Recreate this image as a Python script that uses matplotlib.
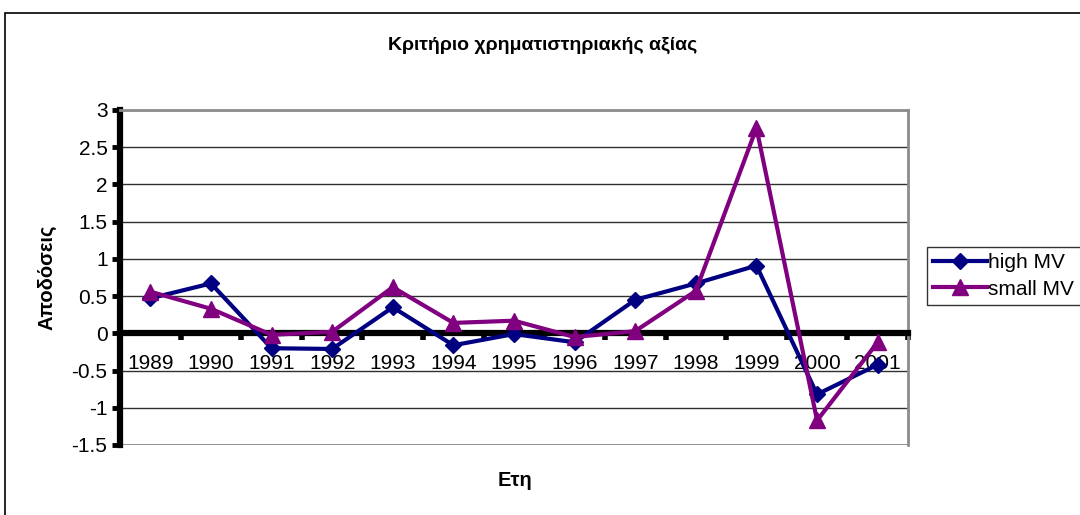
import matplotlib
matplotlib.use("Agg")
import matplotlib.pyplot as plt
from matplotlib.patches import Rectangle

plt.rcParams["font.family"] = ["Liberation Sans", "DejaVu Sans"]
plt.rcParams["axes.unicode_minus"] = False

# dados
anos = ["1989", "1990", "1991", "1992", "1993", "1994", "1995",
        "1996", "1997", "1998", "1999", "2000", "2001"]
high_mv = [0.47, 0.67, -0.20, -0.21, 0.35, -0.16, -0.01,
           -0.12, 0.45, 0.67, 0.91, -0.82, -0.42]
small_mv = [0.56, 0.33, -0.02, 0.02, 0.62, 0.14, 0.17,
            -0.05, 0.03, 0.57, 2.76, -1.17, -0.12]
y_ticks = [-1.5, -1.0, -0.5, 0, 0.5, 1.0, 1.5, 2.0, 2.5, 3.0]
y_labels = ["-1.5", "-1", "-0.5", "0", "0.5", "1", "1.5", "2", "2.5", "3"]

W, H = 1080, 515
fs = 15
fig = plt.figure(figsize=(W / 100, H / 100), dpi=100)

# moldura da figura
fig.patches.append(Rectangle((5 / W, -0.2), 1.5, 1.2 - 13 / H,
                             transform=fig.transFigure, fill=False,
                             ec="black", lw=1.2))

ax = fig.add_axes([120 / W, (H - 445) / H, 788 / W, 335 / H])
x = list(range(len(anos)))

ax.plot(x, high_mv, color="#000080", lw=3, marker="D", ms=8,
        label="high MV", zorder=4)
ax.plot(x, small_mv, color="#800080", lw=3, marker="^", ms=11,
        label="small MV", zorder=4)

ax.set_xlim(-0.5, len(anos) - 0.5)
ax.set_ylim(-1.5, 3.0)

ax.set_yticks(y_ticks)
ax.set_yticklabels(y_labels, fontsize=fs)
ax.tick_params(axis="y", direction="out", length=6, width=3.5, pad=3)
ax.yaxis.grid(True, color="#303030", lw=1)
ax.set_axisbelow(True)

# eixo x em y=0
ax.spines["bottom"].set_position(("data", 0))
ax.spines["bottom"].set_linewidth(4.5)
ax.spines["left"].set_linewidth(4.5)
for s in ["top", "right"]:
    ax.spines[s].set_color("#8c8c8c")
    ax.spines[s].set_linewidth(2)
ax.axhline(-1.5, color="#8c8c8c", lw=2, zorder=1)

ax.set_xticks([i + 0.5 for i in x])
ax.set_xticklabels([])
ax.tick_params(axis="x", which="major", direction="out", length=5, width=4)
ax.set_xticks(x, minor=True)
ax.set_xticklabels(anos, minor=True, fontsize=fs)
ax.tick_params(axis="x", which="minor", length=0, pad=15)

fig.text(543 / W, 1 - 45 / H, "Κριτήριο χρηματιστηριακής αξίας",
         ha="center", va="center", fontsize=14, fontweight="bold")
fig.text(47 / W, 1 - 277 / H, "Αποδόσεις", rotation=90,
         ha="center", va="center", fontsize=14.5, fontweight="bold")
fig.text(515 / W, 1 - 480 / H, "Ετη",
         ha="center", va="center", fontsize=14.5, fontweight="bold")

leg = fig.legend(loc="center left", bbox_to_anchor=(927 / W, 1 - 276 / H),
                 fontsize=fs, frameon=True, fancybox=False,
                 edgecolor="black", handlelength=2.6, handletextpad=0.05,
                 borderpad=0.3, labelspacing=0.35, borderaxespad=0)
leg.get_frame().set_linewidth(1)

fig.savefig("out.png", dpi=100)
